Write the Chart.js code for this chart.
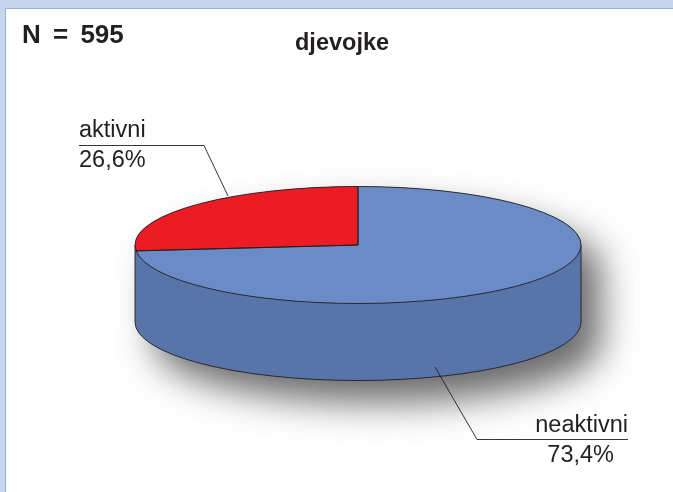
<!DOCTYPE html>
<html>
<head>
<meta charset="utf-8">
<title>djevojke</title>
<script src="https://cdn.jsdelivr.net/npm/chart.js@4/dist/chart.umd.min.js"></script>
<style>
    html, body { margin: 0; padding: 0; width: 673px; height: 492px; overflow: hidden; background: #c5d5ee; }
    #panel { position: absolute; left: 5px; top: 8px; width: 668px; height: 484px; background: #fff; border-left: 1px solid #8fb4df; border-top: 1px solid #8fb4df; box-sizing: border-box; }
    #chart { position: absolute; left: 0; top: 0; }
</style>
</head>
<body>
<div id="panel"></div>
<canvas id="chart" width="673" height="492"></canvas>
<script>
// Values
const categories = ['neaktivni', 'aktivni'];
const shares = [73.4, 26.6];
const percentLabels = ['73,4%', '26,6%'];
const sampleLabel = 'N = 595';
const chartTitle = 'djevojke';

const topColors = ['#6a8bc6', '#ed1c24'];
const wallColor = '#5874a9';
const inkColor = '#231f20';

// Pie is squashed into an ellipse, wall hangs under it
const pieRadius = 223;
const squash = 58.5 / 223;
const wallDepth = 77;

// Squash the arcs and build the wall under them
const tiltedPie = {
    id: 'tiltedPie',
    beforeDatasetsDraw(chart) {
        const ctx = chart.ctx;
        const arc = chart.getDatasetMeta(0).data[0];
        const cx = arc.x;
        const cy = arc.y;
        const r = arc.outerRadius;
        const ry = r * squash;

        // Wall with a soft shadow
        ctx.save();
        ctx.shadowColor = 'rgba(70, 70, 72, 0.8)';
        ctx.shadowBlur = 36;
        ctx.shadowOffsetX = 20;
        ctx.shadowOffsetY = 22;
        ctx.fillStyle = wallColor;
        ctx.beginPath();
        ctx.ellipse(cx, cy, r, ry, 0, Math.PI, 0, false);
        ctx.lineTo(cx + r, cy + wallDepth);
        ctx.ellipse(cx, cy + wallDepth, r, ry, 0, 0, Math.PI, false);
        ctx.closePath();
        ctx.fill();
        ctx.restore();

        // Wall outline
        ctx.strokeStyle = inkColor;
        ctx.lineWidth = 0.9;
        ctx.beginPath();
        ctx.moveTo(cx - r, cy);
        ctx.lineTo(cx - r, cy + wallDepth);
        ctx.ellipse(cx, cy + wallDepth, r, ry, 0, Math.PI, 0, true);
        ctx.lineTo(cx + r, cy);
        ctx.stroke();

        ctx.save();
        ctx.translate(0, cy);
        ctx.scale(1, squash);
        ctx.translate(0, -cy);
    },
    afterDatasetsDraw(chart) {
        const ctx = chart.ctx;
        ctx.restore();

        const arcs = chart.getDatasetMeta(0).data;
        ctx.strokeStyle = inkColor;
        ctx.lineWidth = 0.9;
        arcs.forEach(arc => {
            const ry = arc.outerRadius * squash;
            ctx.beginPath();
            ctx.moveTo(arc.x, arc.y);
            ctx.ellipse(arc.x, arc.y, arc.outerRadius, ry, 0, arc.startAngle, arc.endAngle, false);
            ctx.closePath();
            ctx.stroke();
        });
    }
};

// Texts and leader lines
const annotations = {
    id: 'annotations',
    afterDraw(chart) {
        const ctx = chart.ctx;
        ctx.save();
        ctx.fillStyle = inkColor;
        ctx.textBaseline = 'alphabetic';

        ctx.font = 'bold 26px "Liberation Sans"';
        ctx.wordSpacing = '5px';
        ctx.fillText(sampleLabel, 22, 43);
        ctx.wordSpacing = '0px';

        ctx.font = 'bold 23.5px "Liberation Sans"';
        ctx.fillText(chartTitle, 295, 50);

        ctx.font = '23.5px "Liberation Sans"';
        ctx.textAlign = 'left';
        ctx.fillText(categories[1], 79, 137);
        ctx.fillText(percentLabels[1], 79, 167);
        ctx.textAlign = 'right';
        ctx.fillText(categories[0], 628, 432);
        ctx.fillText(percentLabels[0], 614, 462);

        ctx.strokeStyle = inkColor;
        ctx.lineWidth = 0.9;
        ctx.beginPath();
        ctx.moveTo(79, 145.5);
        ctx.lineTo(204, 145.5);
        ctx.lineTo(228, 196);
        ctx.moveTo(435, 367);
        ctx.lineTo(477, 439.5);
        ctx.lineTo(628, 439.5);
        ctx.stroke();
        ctx.restore();
    }
};

new Chart(document.getElementById('chart'), {
    type: 'pie',
    data: {
        labels: categories,
        datasets: [{
            data: shares,
            backgroundColor: topColors,
            borderWidth: 0
        }]
    },
    options: {
        responsive: false,
        animation: false,
        radius: pieRadius,
        layout: { padding: { left: 43, bottom: 2 } },
        plugins: {
            legend: { display: false },
            tooltip: { enabled: false }
        }
    },
    plugins: [tiltedPie, annotations]
});
</script>
</body>
</html>
